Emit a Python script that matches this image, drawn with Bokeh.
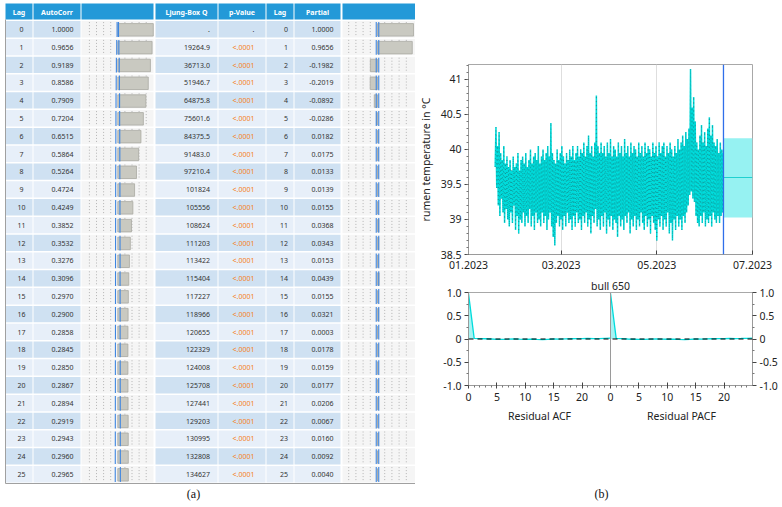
import pandas as pd
from bokeh.plotting import figure
from bokeh.layouts import row, column
from bokeh.models import (Range1d, FixedTicker, DatetimeTickFormatter, Title, Span, LinearAxis)
from bokeh.core.properties import value
from bokeh.embed import file_html
from bokeh.resources import INLINE

# ---------------- data: table (a) ----------------
lags = list(range(26))
autocorr = [1.0000, 0.9656, 0.9189, 0.8586, 0.7909, 0.7204, 0.6515, 0.5864, 0.5264, 0.4724,
            0.4249, 0.3852, 0.3532, 0.3276, 0.3096, 0.2970, 0.2900, 0.2858, 0.2845, 0.2850,
            0.2867, 0.2894, 0.2919, 0.2943, 0.2960, 0.2965]
ljung_box = [None, 19264.9, 36713.0, 51946.7, 64875.8, 75601.6, 84375.5, 91483.0, 97210.4, 101824,
             105556, 108624, 111203, 113422, 115404, 117227, 118966, 120655, 122329, 124008,
             125708, 127441, 129203, 130995, 132808, 134627]
p_value = ["."] + ["<.0001"] * 25
partial = [1.0000, 0.9656, -0.1982, -0.2019, -0.0892, -0.0286, 0.0182, 0.0175, 0.0133, 0.0139,
           0.0155, 0.0368, 0.0343, 0.0153, 0.0439, 0.0155, 0.0321, 0.0003, 0.0178, 0.0159,
           0.0177, 0.0206, 0.0067, 0.0160, 0.0092, 0.0040]
acf_limit = [0.02, 0.03, 0.04, 0.045, 0.05, 0.052, 0.055, 0.057, 0.058, 0.06, 0.061, 0.062, 0.063,
             0.064, 0.064, 0.065, 0.066, 0.066, 0.067, 0.068, 0.068, 0.069, 0.07, 0.07, 0.071, 0.072]
pacf_limit = [0.035] * 26
headers = ["Lag", "AutoCorr", "", "Ljung-Box Q", "p-Value", "Lag", "Partial", ""]

# ---------------- data: time series (b) ----------------
ts_start = "2023-01-18 00:00"
ts_step = "12h"
rumen_temp = [
    39.75, 40.32, 39.45, 40.05, 39.20, 40.25, 39.05, 39.95, 39.30, 39.85, 39.10, 40.05, 38.95, 39.80,
    39.15, 39.90, 39.00, 39.75, 38.90, 39.85, 39.10, 39.70, 38.95, 39.90, 39.20, 39.75, 38.85, 39.80,
    39.05, 39.95, 38.80, 39.70, 39.00, 39.85, 38.95, 39.90, 39.10, 39.80, 38.90, 39.95, 39.05, 39.75,
    38.95, 39.85, 39.15, 40.00, 38.90, 39.80, 39.05, 39.90, 38.85, 39.95, 39.10, 39.85, 38.95, 40.05,
    39.00, 39.80, 38.90, 39.90, 39.10, 40.00, 38.95, 39.85, 39.05, 39.95, 38.85, 40.05, 39.00, 39.90,
    39.10, 40.38, 38.90, 39.95, 38.75, 39.85, 38.63, 39.80, 38.95, 40.00, 39.05, 39.85, 38.90, 39.95,
    39.00, 40.05, 38.85, 39.90, 39.05, 39.80, 38.90, 39.95, 39.10, 39.85, 38.95, 40.00, 39.00, 39.90,
    38.85, 40.05, 39.05, 39.85, 38.90, 39.95, 39.10, 40.05, 38.95, 39.90, 39.00, 40.00, 38.85, 39.95,
    39.05, 40.10, 38.95, 39.90, 39.10, 40.05, 38.90, 40.20, 39.00, 39.95, 38.80, 40.05, 39.05, 39.90,
    38.95, 40.10, 39.15, 40.77, 38.90, 40.05, 39.00, 39.95, 38.85, 40.10, 39.05, 39.95, 38.90, 40.05,
    39.10, 39.90, 38.80, 40.10, 39.00, 39.95, 38.90, 40.15, 39.05, 39.90, 38.85, 40.05, 39.00, 40.00,
    38.95, 39.90, 38.75, 40.10, 39.05, 39.95, 38.90, 40.05, 39.00, 39.90, 38.85, 40.15, 39.05, 39.95,
    38.95, 40.05, 39.10, 39.90, 38.80, 40.10, 39.00, 39.95, 38.90, 40.05, 39.05, 40.00, 38.85, 39.90,
    39.00, 40.10, 38.90, 39.95, 39.10, 40.05, 38.95, 39.90, 38.85, 40.10, 39.05, 39.95, 38.90, 40.05,
    39.00, 40.00, 38.80, 39.90, 39.05, 40.10, 38.95, 39.95, 38.85, 40.05, 38.70, 39.90, 39.00, 40.10,
    38.90, 39.95, 39.05, 40.05, 38.85, 40.10, 39.00, 39.90, 38.90, 40.05, 39.10, 39.95, 38.80, 40.10,
    38.95, 40.00, 38.70, 39.90, 39.00, 40.05, 38.85, 39.95, 39.05, 40.15, 38.90, 40.00, 39.00, 40.10,
    38.85, 40.20, 39.05, 40.05, 38.95, 40.25, 39.10, 40.15, 39.20, 40.30, 39.35, 41.15, 39.40, 40.60,
    39.30, 40.75, 39.25, 40.40, 39.05, 40.10, 38.95, 40.00, 38.90, 40.20, 39.05, 40.35, 38.95, 40.10,
    39.10, 40.25, 38.90, 40.05, 39.00, 40.30, 38.95, 40.46, 39.05, 40.20, 38.90, 40.35, 39.10, 40.10,
    39.00, 40.05, 38.95, 40.15, 39.05, 39.95, 38.95, 40.10, 39.05, 40.00, 39.10, 39.95,
]
fc_start, fc_end = "2023-06-12 12:00", "2023-07-01 00:00"
fc_mean, fc_low, fc_high = 39.6, 39.03, 40.16
month_ticks = ["2023-01-01", "2023-03-01", "2023-05-01", "2023-07-01"]
temp_ticks = [38.5, 39.0, 39.5, 40.0, 40.5, 41.0]

resid_lags = list(range(26))
resid_acf = [0.98, 0.012, 0.01, 0.005, 0.0, -0.008, -0.006, -0.004, 0.0, -0.004, -0.006, -0.002, -0.01,
             -0.015, -0.006, 0.0, -0.003, 0.002, 0.005, 0.008, 0.01, 0.012, 0.008, 0.01, 0.015, 0.02]
resid_pacf = [0.98, 0.012, 0.01, 0.0, -0.005, -0.01, -0.008, -0.004, 0.0, -0.003, -0.005, -0.002, -0.01,
              -0.015, -0.006, 0.0, -0.002, 0.003, 0.005, 0.007, 0.01, 0.012, 0.01, 0.012, 0.015, 0.018]
corr_ticks = [-1.0, -0.5, 0.0, 0.5, 1.0]
corr_labels = ["-1.0", "-0.5", "0", "0.5", "1.0"]
lag_ticks = [0, 5, 10, 15, 20]
max_lag = 25
panel_titles = ["Residual ACF", "Residual PACF"]

# ---------------- styles ----------------
SANS = "Noto Sans"
CYAN = "#00dcdc"
BAND = "#96f2f2"
BLUE_LINE = "#2f6fea"

# ================= table figure (a) =================
TW, TH = 415, 485
tf = figure(width=TW, height=TH, x_range=Range1d(0, TW), y_range=Range1d(TH, 0),
            x_axis_type=None, y_axis_type=None, output_backend="svg", toolbar_location=None,
            min_border=0, min_border_left=0, min_border_right=0, min_border_top=0, min_border_bottom=0)
tf.grid.visible = False
tf.outline_line_color = None

COLS = [(5, 32), (33, 80), (81, 153), (155, 217), (218, 265), (266, 293), (294, 340), (342, 415)]
HEAD_TOP, HEAD_BOT = 3, 19
ROW0, PITCH, CELL_H = 20.6, 17.8, 16.3
EVEN_BG, ODD_BG, CHART_BG = "#cfe1f2", "#e7eff9", "#f5f5f5"
HEAD_BG = "#2399d8"

tf.quad(left=[c[0] for c in COLS], right=[c[1] for c in COLS], top=[HEAD_TOP] * 8,
        bottom=[HEAD_BOT] * 8, fill_color=HEAD_BG, line_color=None)
tf.text(x=[(c[0] + c[1]) / 2 for c in COLS], y=[(HEAD_TOP + HEAD_BOT) / 2 + 0.5] * 8, text=headers,
        text_align="center", text_baseline="middle", text_color="white",
        text_font=value(SANS), text_font_size=value("7px"), text_font_style="bold")

ql, qr, qt, qb, qc = [], [], [], [], []
for i in lags:
    top = ROW0 + i * PITCH
    for j, (a, b) in enumerate(COLS):
        ql.append(a); qr.append(b); qt.append(top); qb.append(top + CELL_H)
        if j in (2, 7):
            qc.append(CHART_BG)
        else:
            qc.append(EVEN_BG if i % 2 == 0 else ODD_BG)
tf.quad(left=ql, right=qr, top=qt, bottom=qb, fill_color=qc, line_color=None)

row_mid = [ROW0 + i * PITCH + CELL_H / 2 + 0.3 for i in lags]
row_top = [ROW0 + i * PITCH for i in lags]

ACF_ZERO, ACF_SCALE = 117.3, 35.5
PACF_ZERO, PACF_SCALE = 377.0, 36.0
gx0, gy0, gy1 = [], [], []
for t in row_top:
    for g in [-0.8, -0.6, -0.4, -0.2, 0.2, 0.4, 0.6, 0.8]:
        for z, s in ((ACF_ZERO, ACF_SCALE), (PACF_ZERO, PACF_SCALE)):
            gx0.append(z + g * s); gy0.append(t + 1); gy1.append(t + CELL_H - 0.5)
tf.segment(x0=gx0, y0=gy0, x1=gx0, y1=gy1, line_color="#b4b4b4", line_width=1, line_dash="1 2")

BAR_COL, BAR_EDGE = "#c9c9c1", "#a9a9a2"
tf.quad(left=[ACF_ZERO + min(v, 0) * ACF_SCALE for v in autocorr],
        right=[ACF_ZERO + max(v, 0) * ACF_SCALE for v in autocorr],
        top=[t + 2.5 for t in row_top], bottom=[t + 15 for t in row_top],
        fill_color=BAR_COL, line_color=BAR_EDGE, line_width=0.8)
tf.quad(left=[PACF_ZERO + min(v, 0) * PACF_SCALE for v in partial],
        right=[PACF_ZERO + max(v, 0) * PACF_SCALE for v in partial],
        top=[t + 2.5 for t in row_top], bottom=[t + 15 for t in row_top],
        fill_color=BAR_COL, line_color=BAR_EDGE, line_width=0.8)

bx0, by0, by1 = [], [], []
for t, lim in zip(row_top, acf_limit):
    for sgn in (-1, 1):
        bx0.append(ACF_ZERO + sgn * lim * ACF_SCALE); by0.append(t + 1); by1.append(t + CELL_H - 0.5)
for t, lim in zip(row_top, pacf_limit):
    for sgn in (-1, 1):
        bx0.append(PACF_ZERO + sgn * lim * PACF_SCALE); by0.append(t + 1); by1.append(t + CELL_H - 0.5)
tf.segment(x0=bx0, y0=by0, x1=bx0, y1=by1, line_color="#3d85e0", line_width=1.1)

TXT = "#333333"
tfont = dict(text_font=value(SANS), text_font_size=value("7px"), text_baseline="middle")
tf.text(x=[21] * 26, y=row_mid, text=[str(l) for l in lags], text_align="center", text_color=TXT, **tfont)
tf.text(x=[73] * 26, y=row_mid, text=[f"{v:.4f}" for v in autocorr], text_align="right", text_color=TXT, **tfont)
lb_txt = ["." if v is None else (f"{v:.1f}" if v < 100000 else f"{v:.0f}") for v in ljung_box]
tf.text(x=[209.5] * 26, y=row_mid, text=lb_txt, text_align="right", text_color=TXT, **tfont)
tf.text(x=[254] * 26, y=row_mid, text=p_value, text_align="right",
        text_color=[TXT if p == "." else "#f5821f" for p in p_value], **tfont)
tf.text(x=[287.5] * 26, y=row_mid, text=[str(l) for l in lags], text_align="right", text_color=TXT, **tfont)
tf.text(x=[333] * 26, y=row_mid, text=[f"{v:.4f}" for v in partial], text_align="right", text_color=TXT, **tfont)

tf.line(x=[5, 5], y=[HEAD_BOT, 483], line_color="#a0a0a0", line_width=1)
tf.line(x=[5, 415], y=[483, 483], line_color="#a0a0a0", line_width=1.2)


def style_axes(f):
    for ax in f.axis:
        ax.axis_line_color = "#9a9a9a"
        ax.major_tick_line_color = "#444444"
        ax.minor_tick_line_color = "#777777"
        ax.major_label_text_font = SANS
        ax.major_label_text_font_size = "10.5px"
        ax.major_label_text_color = "#222222"
        ax.axis_label_text_font = SANS
        ax.axis_label_text_font_size = "10.5px"
        ax.axis_label_text_font_style = "normal"
        ax.axis_label_text_color = "#222222"
        ax.major_tick_out = 4
        ax.major_tick_in = 0
        ax.minor_tick_out = 2
        ax.minor_tick_in = 0
        ax.major_label_standoff = 3
        ax.axis_label_standoff = 5


# ================= time series figure =================
def ms(s):
    return pd.Timestamp(s).value // 10**6

TS_H = 275
ts_x = pd.date_range(ts_start, periods=len(rumen_temp), freq=ts_step)
ts = figure(width=367, height=TS_H, x_axis_type="datetime",
            x_range=Range1d(ms(month_ticks[0]), ms(month_ticks[-1])), y_range=Range1d(38.5, 41.214),
            output_backend="svg", toolbar_location=None,
            min_border_left=53, min_border_right=30, min_border_top=64, min_border_bottom=TS_H - 254)
ts.line(ts_x, rumen_temp, line_color=CYAN, line_width=1.5)
ts.line(ts_x, rumen_temp, line_color="#1d6a6a", line_width=0.8, line_dash="1 3", line_alpha=0.55)
ts.quad(left=[ms(fc_start)], right=[ms(fc_end)], bottom=[fc_low], top=[fc_high],
        fill_color=BAND, line_color=None)
ts.line([ms(fc_start), ms(fc_end)], [fc_mean, fc_mean], line_color="#20d0d0", line_width=1.2)
ts.add_layout(Span(location=ms(fc_start), dimension="height", line_color=BLUE_LINE, line_width=1.3))

ts.xaxis.ticker = FixedTicker(ticks=[ms(m) for m in month_ticks])
ts.xaxis.formatter = DatetimeTickFormatter(months="%m.%Y", days="%m.%Y", years="%m.%Y",
                                           hours="%m.%Y", minutes="%m.%Y")
ts.yaxis.ticker = FixedTicker(ticks=temp_ticks, minor_ticks=[38.5 + k * 0.1 for k in range(28)])
ts.yaxis.major_label_overrides = {41: "41", 40: "40", 39: "39"}
ts.yaxis.axis_label = "rumen temperature in °C"
ts.xgrid.ticker = FixedTicker(ticks=[ms(m) for m in month_ticks])
ts.xgrid.grid_line_color = "#dedede"
ts.ygrid.grid_line_color = None
ts.outline_line_color = "#a8a8a8"
style_axes(ts)
ts.xaxis.major_tick_out = 0
ts.xaxis.major_tick_in = 4
ts.xaxis.major_label_standoff = 6

# ================= residual ACF / PACF (one frame, two panels) =================
CF_H = 485 - TS_H
cf = figure(width=367, height=CF_H, x_range=Range1d(0, 2 * max_lag), y_range=Range1d(-1.0, 1.0),
            output_backend="svg", toolbar_location=None,
            min_border_left=53, min_border_right=30, min_border_top=292 - TS_H,
            min_border_bottom=CF_H - (292 - TS_H) - 93)
pacf_x = [l + max_lag for l in resid_lags]
cf.varea(x=resid_lags, y1=[0] * 26, y2=resid_acf, fill_color="#a8f3f3")
cf.line(resid_lags, resid_acf, line_color=CYAN, line_width=1.3)
cf.varea(x=pacf_x, y1=[0] * 26, y2=resid_pacf, fill_color="#a8f3f3")
cf.line(pacf_x, resid_pacf, line_color=CYAN, line_width=1.3)
cf.add_layout(Span(location=0, dimension="width", line_color="black", line_width=1.2, line_dash="5 4"))
cf.add_layout(Span(location=max_lag, dimension="height", line_color="#9a9a9a", line_width=1))

all_lag_ticks = lag_ticks + [t + max_lag for t in lag_ticks]
cf.xaxis.ticker = FixedTicker(ticks=all_lag_ticks,
                              minor_ticks=[k for k in range(2 * max_lag) if k % 5])
cf.xaxis.major_label_overrides = {t + max_lag: str(t) for t in lag_ticks}
cf.yaxis.ticker = FixedTicker(ticks=corr_ticks, minor_ticks=[-0.75, -0.25, 0.25, 0.75])
cf.yaxis.major_label_overrides = dict(zip(corr_ticks, corr_labels))
r_ax = LinearAxis(ticker=FixedTicker(ticks=corr_ticks, minor_ticks=[-0.75, -0.25, 0.25, 0.75]),
                  major_label_overrides=dict(zip(corr_ticks, corr_labels)))
cf.add_layout(r_ax, "right")
name_pos = [max_lag / 2, max_lag * 1.5]
name_ax = LinearAxis(ticker=FixedTicker(ticks=name_pos, minor_ticks=[]),
                     major_label_overrides=dict(zip(name_pos, panel_titles)))
cf.add_layout(name_ax, "below")
cf.grid.visible = False
cf.outline_line_color = "#a8a8a8"
style_axes(cf)
for ax in cf.xaxis:
    ax.major_tick_in = 3
    ax.major_tick_out = 3
    ax.major_label_standoff = 4
name_ax.axis_line_color = None
name_ax.major_tick_line_color = None
name_ax.minor_tick_line_color = None
name_ax.major_tick_in = 0
name_ax.major_tick_out = 0
name_ax.major_label_standoff = 5
cf.add_layout(Title(text="bull 650", align="center", text_font=SANS, text_font_size="10.5px",
                    text_font_style="normal", text_color="#222222", standoff=0, offset=0), "above")

# ================= caption strip =================
cap = figure(width=782, height=22, x_range=Range1d(0, 782), y_range=Range1d(22, 0),
             x_axis_type=None, y_axis_type=None, output_backend="svg", toolbar_location=None,
             min_border=0, min_border_left=0, min_border_right=0, min_border_top=0, min_border_bottom=0)
cap.grid.visible = False
cap.outline_line_color = None
cap.text(x=[193, 601], y=[8, 8], text=["(a)", "(b)"], text_align="center", text_baseline="middle",
         text_font=value("Liberation Serif"), text_font_size=value("12px"), text_color="#111111")

right = column(ts, cf, spacing=0)
p = column(row(tf, right, spacing=0), cap, spacing=0)

open("out.html", "w").write(file_html(p, INLINE))
